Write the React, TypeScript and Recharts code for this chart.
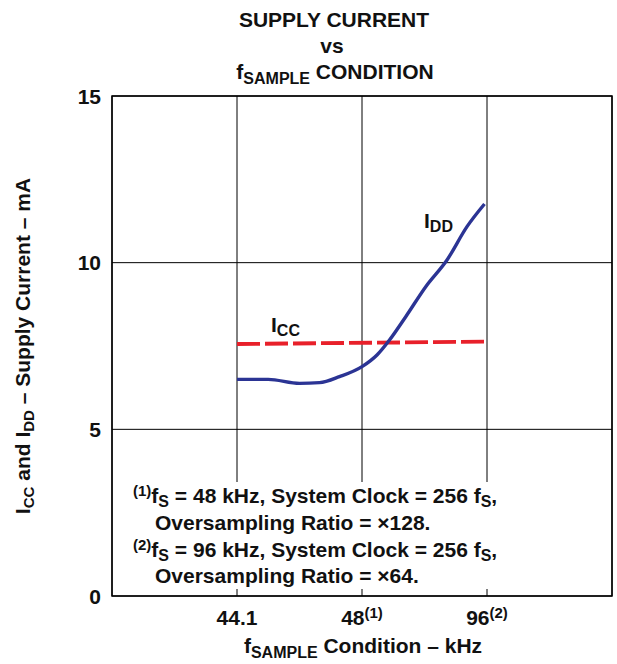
import React from 'react';
import { LineChart, Line, XAxis, YAxis, CartesianGrid, ReferenceArea } from 'recharts';

// Category positions on the x axis (index scale) and their labels
const categoryPositions = [1, 2, 3];
const categoryLabels = ['44.1', '48', '96'];
const categoryNotes = ['', '(1)', '(2)'];
const yTicks = [0, 5, 10, 15];

// I_DD supply current (mA)
const iddX = [1.0, 1.25, 1.5, 1.66, 1.82, 2.0, 2.12, 2.22, 2.35, 2.51, 2.68, 2.84, 2.98];
const iddY = [6.5, 6.5, 6.38, 6.4, 6.58, 6.88, 7.23, 7.68, 8.38, 9.28, 10.08, 11.08, 11.76];

// I_CC supply current (mA)
const iccX = [1.0, 3.0];
const iccY = [7.56, 7.63];

const iddData = iddX.map((x, i) => ({ x, y: iddY[i] }));
const iccData = iccX.map((x, i) => ({ x, y: iccY[i] }));

const FONT = '"Liberation Sans", Arial, Helvetica, sans-serif';
const FS = 21;
const SUB = 15;

const XTick = (props: any) => {
  const { x, payload } = props;
  const i = categoryPositions.indexOf(payload.value);
  if (i < 0) return null;
  return (
    <text x={x} y={625} textAnchor="middle" fontFamily={FONT} fontWeight="bold" fontSize={FS} fill="#111">
      {categoryLabels[i]}
      {categoryNotes[i] ? (
        <tspan fontSize={SUB} dy={-7}>{categoryNotes[i]}</tspan>
      ) : null}
    </text>
  );
};

const YTick = (props: any) => {
  const { y, payload } = props;
  return (
    <text x={101} y={y + 7.5} textAnchor="end" fontFamily={FONT} fontWeight="bold" fontSize={FS} fill="#111">
      {payload.value}
    </text>
  );
};

export default function App() {
  return (
    <div style={{ position: 'absolute', left: 0, top: 0, width: 617, height: 664, background: '#fff' }}>
      <LineChart
        width={617}
        height={664}
        margin={{ top: 96, right: 5, bottom: 8, left: 0 }}
      >
        <CartesianGrid stroke="#000" strokeWidth={1} />
        <XAxis
          type="number"
          dataKey="x"
          domain={[0, 4]}
          ticks={categoryPositions}
          allowDataOverflow
          axisLine={false}
          tickLine={false}
          height={60}
          tick={<XTick />}
        />
        <YAxis
          type="number"
          dataKey="y"
          domain={[0, 15]}
          ticks={yTicks}
          allowDataOverflow
          axisLine={false}
          tickLine={false}
          width={112}
          tick={<YTick />}
        />
        <ReferenceArea x1={0} x2={4} y1={0} y2={15} fill="none" stroke="#000" strokeWidth={1.5} />
        <Line
          data={iccData}
          dataKey="y"
          type="linear"
          stroke="#E8202A"
          strokeWidth={3.8}
          strokeDasharray="23 5"
          dot={false}
          isAnimationActive={false}
        />
        <Line
          data={iddData}
          dataKey="y"
          type="monotone"
          stroke="#2B3494"
          strokeWidth={3.4}
          dot={false}
          isAnimationActive={false}
        />
      </LineChart>
      <svg
        width={617}
        height={664}
        style={{ position: 'absolute', left: 0, top: 0, pointerEvents: 'none' }}
        fontFamily={FONT}
        fontWeight="bold"
        fill="#111"
      >
        {/* Title */}
        <text x={334} y={27} textAnchor="middle" fontSize={FS}>SUPPLY CURRENT</text>
        <text x={332} y={53} textAnchor="middle" fontSize={FS}>vs</text>
        <text x={335} y={79} textAnchor="middle" fontSize={FS}>
          f<tspan fontSize={SUB + 1} dy={5}>SAMPLE</tspan>
          <tspan dy={-5}> CONDITION</tspan>
        </text>

        {/* Y axis label */}
        <text x={30} y={346} textAnchor="middle" fontSize={FS} transform="rotate(-90 30 346)">
          I<tspan fontSize={SUB} dy={4}>CC</tspan>
          <tspan dy={-4}> and I</tspan>
          <tspan fontSize={SUB} dy={4}>DD</tspan>
          <tspan dy={-4}> – Supply Current – mA</tspan>
        </text>

        {/* X axis label */}
        <text x={363} y={653} textAnchor="middle" fontSize={FS}>
          f<tspan fontSize={SUB + 1} dy={5}>SAMPLE</tspan>
          <tspan dy={-5}> Condition – kHz</tspan>
        </text>

        {/* Series labels */}
        <text x={424} y={228} fontSize={FS}>
          I<tspan fontSize={SUB + 1} dy={4}>DD</tspan>
        </text>
        <text x={271} y={332} fontSize={FS}>
          I<tspan fontSize={SUB + 1} dy={4}>CC</tspan>
        </text>

        {/* Footnotes */}
        <rect x={124} y={482} width={386} height={107} fill="#fff" />
        <text x={133} y={503} fontSize={FS}>
          <tspan fontSize={SUB} dy={-7}>(1)</tspan>
          <tspan dy={7}>f</tspan>
          <tspan fontSize={SUB + 1} dy={4}>S</tspan>
          <tspan dy={-4}> = 48 kHz, System Clock = 256 f</tspan>
          <tspan fontSize={SUB + 1} dy={4}>S</tspan>
          <tspan dy={-4}>,</tspan>
        </text>
        <text x={155} y={530} fontSize={FS}>Oversampling Ratio = ×128.</text>
        <text x={133} y={557} fontSize={FS}>
          <tspan fontSize={SUB} dy={-7}>(2)</tspan>
          <tspan dy={7}>f</tspan>
          <tspan fontSize={SUB + 1} dy={4}>S</tspan>
          <tspan dy={-4}> = 96 kHz, System Clock = 256 f</tspan>
          <tspan fontSize={SUB + 1} dy={4}>S</tspan>
          <tspan dy={-4}>,</tspan>
        </text>
        <text x={155} y={583} fontSize={FS}>Oversampling Ratio = ×64.</text>
      </svg>
    </div>
  );
}
